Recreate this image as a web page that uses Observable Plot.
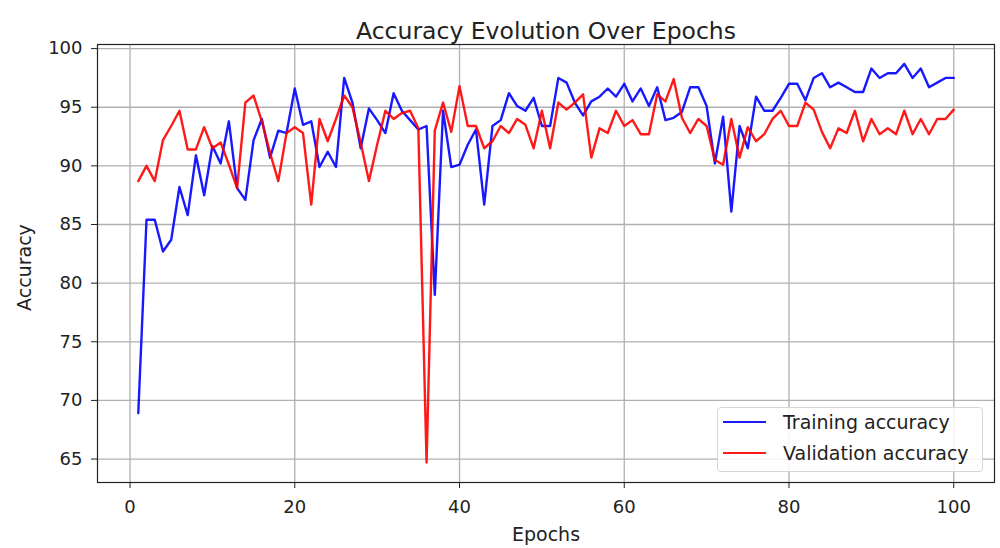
<!DOCTYPE html>
<html>
<head>
<meta charset="utf-8">
<script src="https://cdn.jsdelivr.net/npm/d3@7"></script>
<script src="https://cdn.jsdelivr.net/npm/@observablehq/plot@0.6"></script>
<style>
  html, body { margin: 0; padding: 0; background: #fff; }
  #wrap { position: relative; width: 1000px; height: 548px; font-family: "DejaVu Sans", sans-serif; }
  #legend { position: absolute; left: 717px; top: 407px; width: 264px; height: 63px;
    border: 1px solid #d6d6d6; border-radius: 4px; background: rgba(255,255,255,0.85); }
  .item { position: absolute; left: 0; height: 24px; font-size: 19px; color: #222; white-space: nowrap; }
  .sw { position: absolute; left: 5px; top: 11px; width: 43px; height: 2.4px; }
  .lab { position: absolute; left: 65px; top: 0; line-height: 24px; }
</style>
</head>
<body>
<div id="wrap">
  <div id="chart"></div>
  <div id="legend"></div>
</div>
<script>
const title = "Accuracy Evolution Over Epochs";
const xLabel = "Epochs";
const yLabel = "Accuracy";
const seriesNames = ["Training accuracy", "Validation accuracy"];
const seriesColors = ["#0000ff", "#ff0000"];
const xTicks = [0, 20, 40, 60, 80, 100];
const yTicks = [65, 70, 75, 80, 85, 90, 95, 100];

const epochs = [1,2,3,4,5,6,7,8,9,10,11,12,13,14,15,16,17,18,19,20,
  21,22,23,24,25,26,27,28,29,30,31,32,33,34,35,36,37,38,39,40,
  41,42,43,44,45,46,47,48,49,50,51,52,53,54,55,56,57,58,59,60,
  61,62,63,64,65,66,67,68,69,70,71,72,73,74,75,76,77,78,79,80,
  81,82,83,84,85,86,87,88,89,90,91,92,93,94,95,96,97,98,99,100];

const trainingAcc = [68.9,85.4,85.4,82.7,83.7,88.2,85.8,90.9,87.5,91.7,
  90.2,93.8,88.1,87.1,92.2,94.0,90.7,93.0,92.8,96.6,
  93.5,93.8,89.9,91.2,89.9,97.5,95.4,91.5,94.9,93.9,
  92.8,96.2,94.7,93.9,93.1,93.4,79.0,94.7,89.9,90.1,
  91.8,93.1,86.7,93.4,93.9,96.2,95.1,94.7,95.8,93.4,
  93.4,97.5,97.1,95.4,94.3,95.5,95.9,96.6,95.9,97.0,
  95.5,96.6,95.1,96.7,93.9,94.1,94.6,96.7,96.7,95.1,
  90.2,94.2,86.1,93.4,91.5,95.9,94.7,94.7,95.8,97.0,
  97.0,95.6,97.5,97.9,96.7,97.1,96.7,96.3,96.3,98.3,
  97.5,97.9,97.9,98.7,97.5,98.3,96.7,97.1,97.5,97.5];

const validationAcc = [88.7,90.0,88.7,92.2,93.4,94.7,91.4,91.4,93.3,91.5,
  92.0,90.1,88.1,95.4,96.0,93.8,91.1,88.7,92.8,93.3,
  92.8,86.7,94.0,92.1,94.0,96.0,95.0,92.0,88.7,91.8,
  94.7,94.0,94.5,94.7,93.2,64.7,93.0,95.4,92.9,96.8,
  93.4,93.4,91.5,92.1,93.4,92.8,94.0,93.5,91.5,94.7,
  91.5,95.4,94.8,95.4,96.1,90.7,93.2,92.8,94.7,93.4,
  93.9,92.7,92.7,96.1,95.5,97.4,94.1,92.8,94.0,93.4,
  90.5,90.1,94.0,90.7,93.3,92.1,92.7,94.0,94.7,93.4,
  93.4,95.4,94.8,92.9,91.5,93.2,92.8,94.7,92.1,94.0,
  92.7,93.2,92.7,94.7,92.7,94.0,92.7,94.0,94.0,94.8];

const rows = [];
epochs.forEach((e, i) => {
  rows.push({epoch: e, acc: trainingAcc[i], series: seriesNames[0]});
});
epochs.forEach((e, i) => {
  rows.push({epoch: e, acc: validationAcc[i], series: seriesNames[1]});
});

const chart = Plot.plot({
  width: 1000,
  height: 548,
  marginLeft: 97,
  marginRight: 6,
  marginTop: 44,
  marginBottom: 66,
  style: {fontFamily: "DejaVu Sans, sans-serif", fontSize: "18px", color: "#222", background: "#fff"},
  x: {domain: [-3.95, 104.95], label: null},
  y: {domain: [63.0, 100.35], label: null},
  color: {domain: seriesNames, range: seriesColors},
  marks: [
    Plot.gridX(xTicks, {stroke: "#b0b0b0", strokeOpacity: 1, strokeWidth: 1.3}),
    Plot.gridY(yTicks, {stroke: "#b0b0b0", strokeOpacity: 1, strokeWidth: 1.3}),
    Plot.line(rows, {x: "epoch", y: "acc", z: "series", stroke: "series", strokeWidth: 2.4, strokeOpacity: 0.9}),
    Plot.frame({stroke: "#222", strokeWidth: 1.2}),
    Plot.axisX(xTicks, {tickSize: 6, tickPadding: 12, fontSize: 18, label: null, stroke: "#222"}),
    Plot.axisY(yTicks, {tickSize: 6, tickPadding: 9, fontSize: 18, label: null, stroke: "#222"}),
    Plot.text([title], {frameAnchor: "top", dy: -22, fontSize: 23.5, fill: "#222"}),
    Plot.text([xLabel], {frameAnchor: "bottom", dy: 58, fontSize: 19, fill: "#222"}),
    Plot.text([yLabel], {frameAnchor: "left", textAnchor: "middle", dx: -73, dy: 4, rotate: -90, fontSize: 19, fill: "#222"})
  ]
});
document.getElementById("chart").appendChild(chart);

const legend = document.getElementById("legend");
seriesNames.forEach((name, i) => {
  const item = document.createElement("div");
  item.className = "item";
  item.style.top = (2 + i * 31) + "px";
  const sw = document.createElement("div");
  sw.className = "sw";
  sw.style.background = seriesColors[i];
  sw.style.opacity = 0.9;
  const lab = document.createElement("div");
  lab.className = "lab";
  lab.textContent = name;
  item.appendChild(sw);
  item.appendChild(lab);
  legend.appendChild(item);
});
</script>
</body>
</html>
